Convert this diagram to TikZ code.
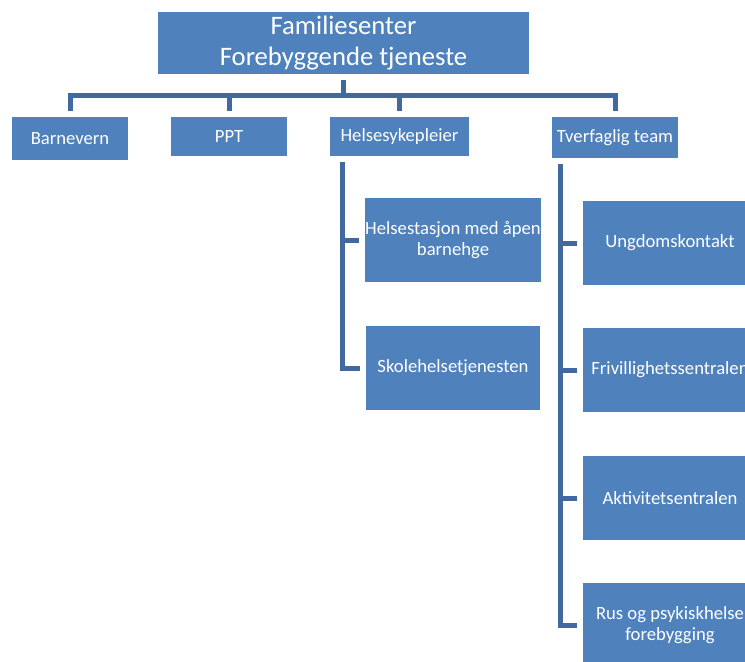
\documentclass[tikz,border=0pt]{standalone}
\usepackage{fontspec}
\setmainfont{Carlito}
\usepackage{tikz}
\usetikzlibrary{calc}

\definecolor{boxblue}{HTML}{4F81BD}
\definecolor{lineblue}{HTML}{4169A0}

\begin{document}
\begin{tikzpicture}[
        x=0.75pt, y=-0.75pt,
        font=\fontsize{14}{16}\selectfont,
        box/.style={fill=boxblue, text=white, align=center, inner sep=0pt},
        subbox/.style={box, minimum width=130.5pt, minimum height=63pt},
        link/.style={draw=lineblue, line width=3.75pt, line cap=butt, line join=miter}
    ]

        % === DEFINITIONS & CANVAS ===
        \def\gap{6}     % Gap between a line end and its box
        \def\barY{95}   % Height of the main bar
        \useasboundingbox (0,0) rectangle (745,661);
        \clip (0,0) rectangle (745,661);

        % === 1. TOP BOX ===
        \node[box, minimum width=278.25pt, minimum height=46.5pt,
              font=\fontsize{20}{23}\selectfont] (Top) at (343.5,43)
            {Familiesenter\\ Forebyggende tjeneste};

        % === 2. FIRST ROW ===
        \node[box, minimum width=87pt, minimum height=32.25pt] (Barnevern) at (70,138.5) {Barnevern};
        \node[box, minimum width=87pt, minimum height=29.25pt] (PPT) at (229,136.5) {PPT};
        \node[box, minimum width=104.25pt, minimum height=29.25pt] (Helse) at (399.5,136.5) {Helsesykepleier};
        \node[box, minimum width=94.5pt, minimum height=30.75pt] (Tverfaglig) at (615,137.5) {Tverfaglig team};

        % === 3. SUB BOXES ===
        \node[subbox] (Stasjon) at (453,240) {Helsestasjon med åpen\\ barnehge};
        \node[subbox] (Skole) at (453,368) {Skolehelsetjenesten};

        \node[subbox] (Ungdom) at (670,243) {Ungdomskontakt};
        \node[subbox] (Frivillig) at (670,370) {Frivillighetssentralen};
        \node[subbox] (Aktivitet) at (670,498) {Aktivitetsentralen};
        \node[subbox] (Rus) at (670,625) {Rus og psykiskhelse\\ forebygging};

        % === 4. MAIN CONNECTORS ===
        \coordinate (Bar) at (0,\barY);
        \draw[link] ($(Top.south)+(0,\gap)$) -- (Top.south |- Bar);
        \draw[link] ($(Barnevern.north)+(0,-\gap)$) |- (Tverfaglig.north |- Bar)
            -- ($(Tverfaglig.north)+(0,-\gap)$);
        \foreach \n in {PPT, Helse}
            \draw[link] ($(\n.north)+(0,-\gap)$) -- (\n.north |- Bar);

        % === 5. SUB CONNECTORS ===
        \coordinate (HSpine) at ($(Helse.south west)+(13,\gap)$);
        \draw[link] (HSpine |- Stasjon.west) -- ($(Stasjon.west)+(-\gap,0)$);
        \draw[link] (HSpine) |- ($(Skole.west)+(-\gap,0)$);

        \coordinate (TSpine) at ($(Tverfaglig.south west)+(9,\gap)$);
        \foreach \n in {Ungdom, Frivillig, Aktivitet}
            \draw[link] (TSpine |- \n.west) -- ($(\n.west)+(-\gap,0)$);
        \draw[link] (TSpine) |- ($(Rus.west)+(-\gap,0)$);

    \end{tikzpicture}
\end{document}
